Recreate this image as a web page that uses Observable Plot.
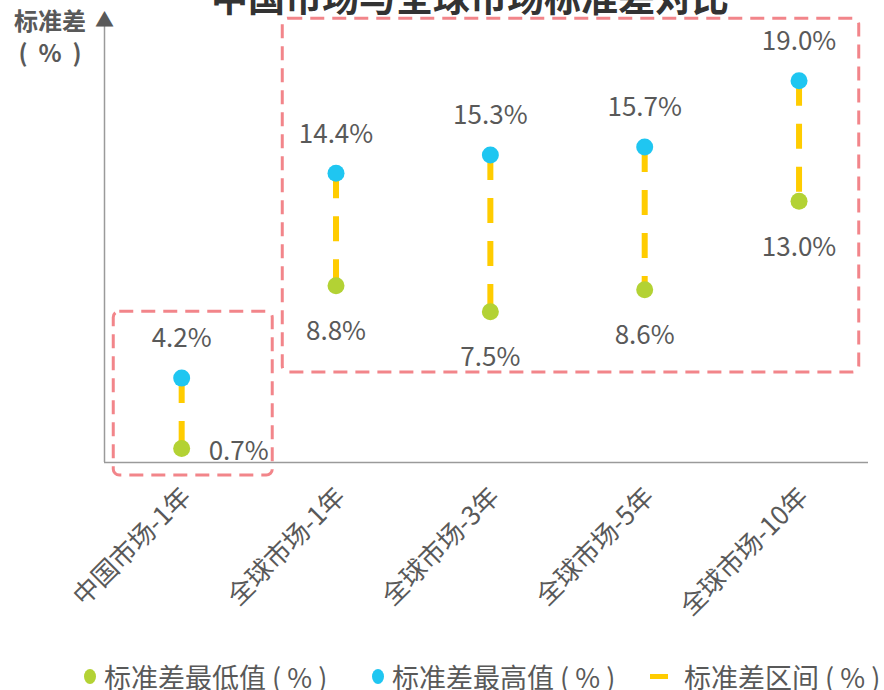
<!DOCTYPE html>
<html><head><meta charset="utf-8">
<script src="https://cdn.jsdelivr.net/npm/d3@7"></script>
<script src="https://cdn.jsdelivr.net/npm/@observablehq/plot@0.6"></script>
<style>
html,body{margin:0;padding:0;background:#fff;overflow:hidden;width:884px;height:690px;}
#wrap{position:relative;width:884px;height:690px;font-family:"Noto Sans CJK SC","Noto Sans",sans-serif;}
#title{position:absolute;left:0;width:940px;text-align:center;top:-22px;font-size:37px;font-weight:bold;color:#333;line-height:1;white-space:nowrap;}
.ylab{position:absolute;left:8px;width:84px;font-size:24px;font-weight:bold;color:#595959;line-height:25px;text-align:center;white-space:pre;}
#chart{position:absolute;left:0;top:0;}
.lg{position:absolute;top:663px;font-size:27px;color:#595959;line-height:27px;white-space:pre;}
.sw{position:absolute;}
</style></head>
<body><div id="wrap">
<div id="chart"></div>
<div id="title">中国市场与全球市场标准差对比</div>
<div class="ylab" style="top:7px">标准差</div>
<div class="ylab" style="top:39px">(  %  )</div>
<div id="legend"></div>
</div>
<script>
const categories = ["中国市场-1年","全球市场-1年","全球市场-3年","全球市场-5年","全球市场-10年"];
const lowValues = [0.7, 8.8, 7.5, 8.6, 13.0];
const highValues = [4.2, 14.4, 15.3, 15.7, 19.0];
const seriesNames = ["标准差最低值 ( % )","标准差最高值 ( % )","标准差区间 ( % )"];
const seriesColors = ["#b3d234","#1fc6f1","#ffcc00"];
// highlight boxes in data units (category index, value)
const boxX1 = [-0.44, 0.655];
const boxX2 = [0.59, 4.39];
const boxY1 = [-0.65, 4.48];
const boxY2 = [7.5, 22.09];

const rows = categories.map((c,i)=>({i, c, low: lowValues[i], high: highValues[i]}));
const boxes = boxX1.map((_,k)=>({x1:boxX1[k],x2:boxX2[k],y1:boxY1[k],y2:boxY2[k]}));
const fmt = v => v.toFixed(1) + "%";
const font = '"Noto Sans CJK SC","Noto Sans",sans-serif';

const chart = Plot.plot({
  width: 884, height: 650,
  marginLeft: 104, marginRight: 16, marginTop: 20, marginBottom: 188,
  style: {fontFamily: font, color: "#595959", background: "transparent", overflow: "visible"},
  x: {type: "linear", domain: [-0.5, 4.45], axis: null},
  y: {domain: [0, 22], axis: null},
  marks: [
    Plot.rect(boxes, {x1:"x1", x2:"x2", y1:"y1", y2:"y2", fill:"none", stroke:"#f2858a", strokeWidth:3, strokeDasharray:"14,8", rx:6}),
    Plot.ruleY([0], {stroke:"#9a9a9a", strokeWidth:1.5}),
    Plot.ruleX([-0.5], {y1:0, y2:22, stroke:"#9a9a9a", strokeWidth:1.5}),
    Plot.text(["▲"], {x:-0.5, y:22, text:d=>d, fontSize:19, fill:"#595959", lineAnchor:"bottom", dy:6}),
    Plot.axisX({ticks: d3.range(categories.length), tickFormat: i => categories[i], tickSize: 0, tickRotate: -45, fontSize: 26, tickPadding: 30, dx: 5, fill:"#595959"}),
    Plot.link(rows, {x1:"i", x2:"i", y1:"high", y2:"low", stroke:seriesColors[2], strokeWidth:6, strokeDasharray:"25,18"}),
    Plot.dot(rows, {x:"i", y:"low", r:8.5, fill:seriesColors[0]}),
    Plot.dot(rows, {x:"i", y:"high", r:8.5, fill:seriesColors[1]}),
    Plot.text(rows, {x:"i", y:"high", text:d=>fmt(d.high), dy:-39, fontSize:26, fill:"#595959"}),
    Plot.text(rows.slice(1), {x:"i", y:"low", text:d=>fmt(d.low), dy:46, fontSize:26, fill:"#595959"}),
    Plot.text(rows.slice(0,1), {x:"i", y:"low", text:d=>fmt(d.low), dx:57, dy:3, fontSize:26, fill:"#595959"})
  ]
});
document.getElementById("chart").appendChild(chart);

// legend
const lg = document.getElementById("legend");
const itemLeft = [104, 392, 684];
seriesNames.forEach((n,k)=>{
  const t = document.createElement("div");
  t.className = "lg"; t.style.left = itemLeft[k] + "px"; t.textContent = n;
  lg.appendChild(t);
  const s = document.createElement("div");
  s.className = "sw";
  if (k < 2) {
    Object.assign(s.style, {left:(itemLeft[k]-20)+"px", top:"669px", width:"12px", height:"15px", borderRadius:"50%", background:seriesColors[k]});
  } else {
    Object.assign(s.style, {left:(itemLeft[k]-34)+"px", top:"674px", width:"18px", height:"5px", background:seriesColors[k]});
  }
  lg.appendChild(s);
});
</script>
</body></html>
